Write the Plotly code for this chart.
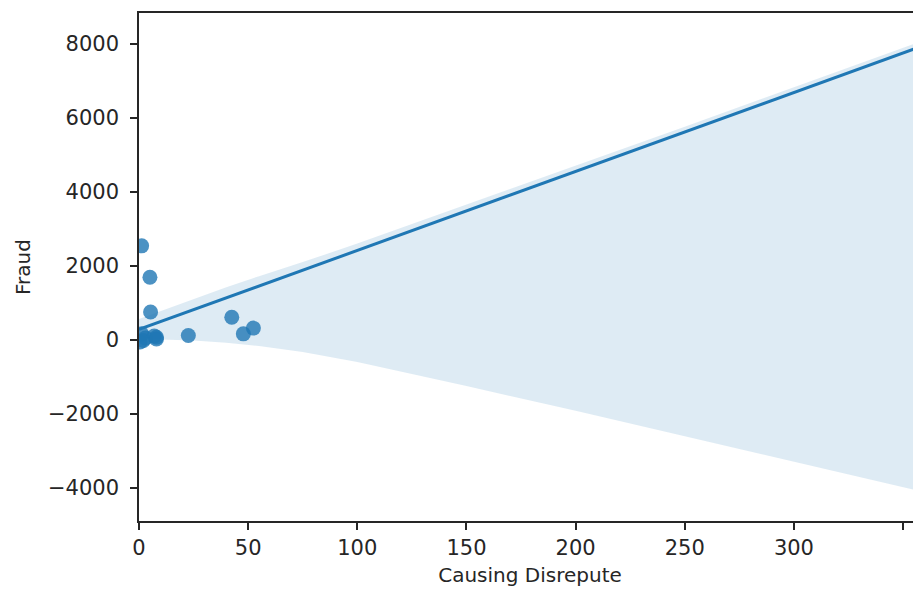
import plotly.graph_objects as go

# Scatter data
causing_disrepute = [0.5, 1.2, 1.2, 2.0, 3.0, 5.0, 5.3, 7.0, 8.0, 8.0, 22.6, 42.5, 47.8, 52.4, 360.5]
fraud = [-60, 2540, 160, -20, 50, 1690, 750, 100, 70, 20, 115, 610, 160, 315, 8300]

# Regression line
fit_x = [0.0, 360.5]
fit_y = [280.0, 7977.0]

# Confidence band edges
ci_x = [0, 10, 25, 40, 55, 75, 100, 150, 200, 250, 300, 362]
ci_upper = [560, 780, 1100, 1420, 1720, 2100, 2600, 3650, 4700, 5760, 6830, 8150]
ci_lower = [0, 10, -20, -80, -170, -330, -600, -1250, -1920, -2600, -3300, -4150]

x_ticks = [0, 50, 100, 150, 200, 250, 300, 350]
y_ticks = [-4000, -2000, 0, 2000, 4000, 6000, 8000]

C0 = "#1f77b4"
INK = "#262626"

fig = go.Figure()

fig.add_trace(go.Scatter(
    x=ci_x + ci_x[::-1],
    y=ci_upper + ci_lower[::-1],
    fill="toself",
    fillcolor="rgba(31,119,180,0.15)",
    line=dict(width=0),
    mode="lines",
    hoverinfo="skip",
    showlegend=False,
))

fig.add_trace(go.Scatter(
    x=causing_disrepute, y=fraud,
    mode="markers",
    marker=dict(color=C0, size=15, opacity=0.8, line=dict(width=0)),
    showlegend=False,
))

fig.add_trace(go.Scatter(
    x=fit_x, y=fit_y,
    mode="lines",
    line=dict(color=C0, width=3),
    showlegend=False,
))

fig.update_layout(
    width=913, height=579,
    margin=dict(l=131, r=0, t=5, b=64),
    paper_bgcolor="white",
    plot_bgcolor="white",
    font=dict(family="DejaVu Sans", color=INK, size=21),
    xaxis=dict(
        range=[0, 358.2],
        tickvals=x_ticks,
        ticks="outside", ticklen=7, tickwidth=1.5, tickcolor=INK,
        showline=True, linecolor=INK, linewidth=1.5, mirror=True,
        showgrid=False, zeroline=False,
        tickfont=dict(size=21, color=INK),
        title=dict(text="Causing Disrepute", font=dict(size=20, color=INK), standoff=13),
    ),
    yaxis=dict(
        range=[-4900, 8835],
        tickvals=y_ticks,
        tickformat="d",
        ticks="outside", ticklen=7, tickwidth=1.5, tickcolor=INK,
        showline=True, linecolor=INK, linewidth=1.5,
        showgrid=False, zeroline=False,
        ticklabelstandoff=7,
        tickfont=dict(size=21, color=INK),
        title=dict(text="Fraud", font=dict(size=20, color=INK), standoff=12),
    ),
)

fig.write_html("out.html")
